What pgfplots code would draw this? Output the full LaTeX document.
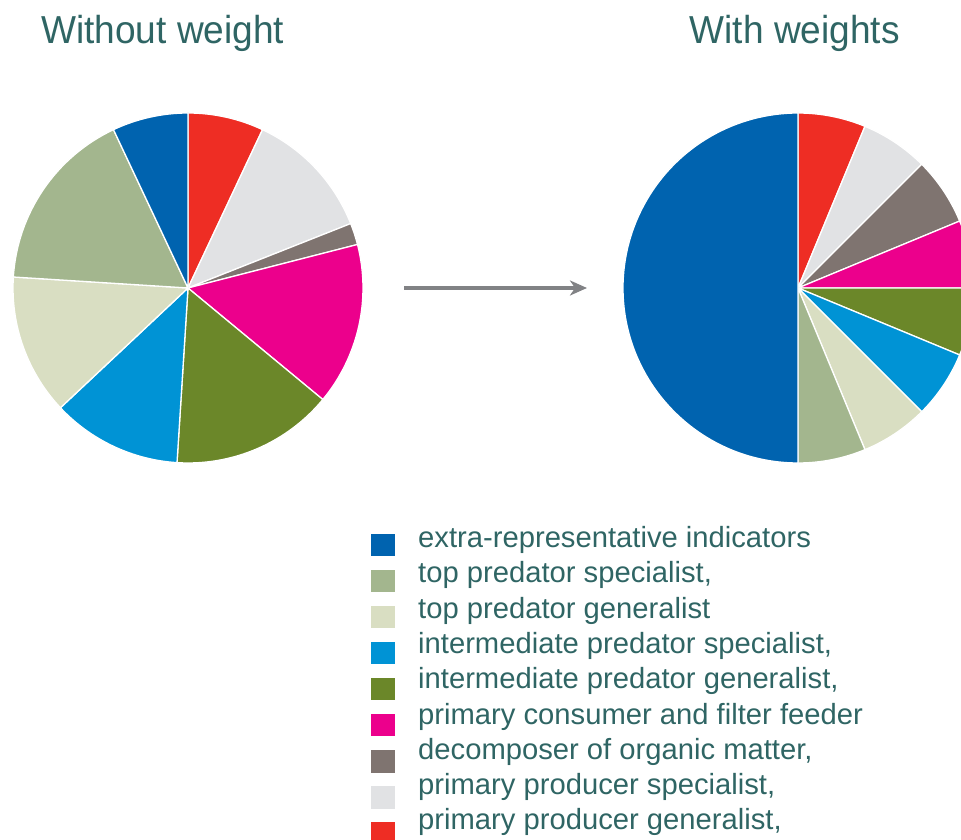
\documentclass[border=0pt]{standalone}
\usepackage{pgfplots}
\usepackage{pgfplotstable}
\pgfplotsset{compat=1.18}
\usetikzlibrary{arrows.meta}
\usepackage{fontspec}
\setmainfont{Liberation Sans}

\definecolor{cDarkBlue}{HTML}{0063AF}
\definecolor{cSage}{HTML}{A3B68E}
\definecolor{cBeige}{HTML}{D9DEC2}
\definecolor{cBlue}{HTML}{0093D5}
\definecolor{cOlive}{HTML}{6B8729}
\definecolor{cPink}{HTML}{EC008C}
\definecolor{cBrown}{HTML}{7F7470}
\definecolor{cGrey}{HTML}{E1E2E4}
\definecolor{cRed}{HTML}{EE2D24}
\definecolor{cText}{HTML}{2F6564}
\definecolor{cArrow}{HTML}{818285}

% vertical drop of a legend swatch below its default place
\tikzset{sqdrop/.store in=\sqdrop, sqdrop=0pt}

% Shares (percent), clockwise from twelve o'clock
\pgfplotstableread{
colour    value
cRed      7
cGrey     12
cBrown    2
cPink     15
cOlive    15
cBlue     12
cBeige    13
cSage     17
cDarkBlue 7
}\unweighted

\pgfplotstableread{
colour    value
cRed      6.25
cGrey     6.25
cBrown    6.25
cPink     6.25
cOlive    6.25
cBlue     6.25
cBeige    6.25
cSage     6.25
cDarkBlue 50
}\weighted

% Draws the wedges of one pie from a table of shares (radius = 1 axis unit)
\newcommand\drawpie[1]{%
  \def\cum{0}%
  \pgfplotstablegetrowsof{#1}%
  \pgfmathtruncatemacro\lastrow{\pgfplotsretval-1}%
  \pgfplotsforeachungrouped \rowidx in {0,...,\lastrow}{%
    \pgfplotstablegetelem{\rowidx}{value}\of{#1}\let\val\pgfplotsretval
    \pgfplotstablegetelem{\rowidx}{colour}\of{#1}\let\col\pgfplotsretval
    \pgfmathsetmacro\aone{90-3.6*\cum}%
    \pgfmathsetmacro\atwo{90-3.6*(\cum+\val)}%
    \pgfmathsetmacro\cum{\cum+\val}%
    \edef\pieslice{\noexpand\fill[\col,draw=white,line width=1.3pt,line join=round]
      (axis cs:0,0) -- (axis cs:{cos(\aone)},{sin(\aone)})
      arc[start angle=\aone,end angle=\atwo,radius=175pt] -- cycle;}%
    \pieslice
  }%
}

\pgfplotsset{
  pie/.style={
    hide axis, scale only axis, width=350pt, height=350pt,
    xmin=-1, xmax=1, ymin=-1, ymax=1, anchor=center, clip=false,
    title style={font=\fontsize{39}{42}\selectfont, text=cText, inner sep=0pt},
  },
}

\begin{document}
\begin{tikzpicture}
\useasboundingbox (0pt,0pt) rectangle (961pt,840pt);
\clip (0pt,0pt) rectangle (961pt,840pt);

\begin{axis}[pie, at={(188pt,552pt)},
  title={\scalebox{0.95}[1]{Without weight}},
  title style={at={(axis description cs:0.08,1.181)}, anchor=base west}]
  \drawpie{\unweighted}
\end{axis}

\begin{axis}[pie, at={(798pt,552pt)},
  title={\scalebox{0.95}[1]{With weights}},
  title style={at={(axis description cs:0.7914,1.181)}, anchor=base east},
  legend cell align=left,
  legend image code/.code={%
    \path[fill=none,draw=none] (0pt,-26pt) rectangle (24pt,14.5pt);
    \fill[#1] (0pt,{-16.2pt-\sqdrop}) rectangle (24pt,{6.5pt-\sqdrop});},
  legend style={draw=none, fill=none, inner sep=0pt,
    at={(axis description cs:-0.72,-0.178)}, anchor=north west,
    font=\fontsize{29.2}{35}\selectfont, text=cText,
    row sep=-5.2pt, column sep=23pt,
    nodes={inner sep=0pt, text height=22pt, text depth=7pt}}]
  \drawpie{\weighted}
  \addlegendimage{fill=cDarkBlue,draw=none,sqdrop=0pt}
  \addlegendentry{extra-representative indicators}
  \addlegendimage{fill=cSage,draw=none,sqdrop=0.75pt}
  \addlegendentry{top predator specialist,}
  \addlegendimage{fill=cBeige,draw=none,sqdrop=1.5pt}
  \addlegendentry{top predator generalist}
  \addlegendimage{fill=cBlue,draw=none,sqdrop=2.25pt}
  \addlegendentry{intermediate predator specialist,}
  \addlegendimage{fill=cOlive,draw=none,sqdrop=3pt}
  \addlegendentry{intermediate predator generalist,}
  \addlegendimage{fill=cPink,draw=none,sqdrop=3.75pt}
  \addlegendentry{primary consumer and filter feeder}
  \addlegendimage{fill=cBrown,draw=none,sqdrop=4.5pt}
  \addlegendentry{decomposer of organic matter,}
  \addlegendimage{fill=cGrey,draw=none,sqdrop=5.25pt}
  \addlegendentry{primary producer specialist,}
  \addlegendimage{fill=cRed,draw=none,sqdrop=6pt}
  \addlegendentry{primary producer generalist,}
\end{axis}

% arrow from the unweighted to the weighted pie
\draw[cArrow, line width=3.2pt, -{Stealth[length=17pt,width=15pt,inset=5pt]}]
  (404pt,552pt) -- (587pt,552pt);
\end{tikzpicture}
\end{document}
